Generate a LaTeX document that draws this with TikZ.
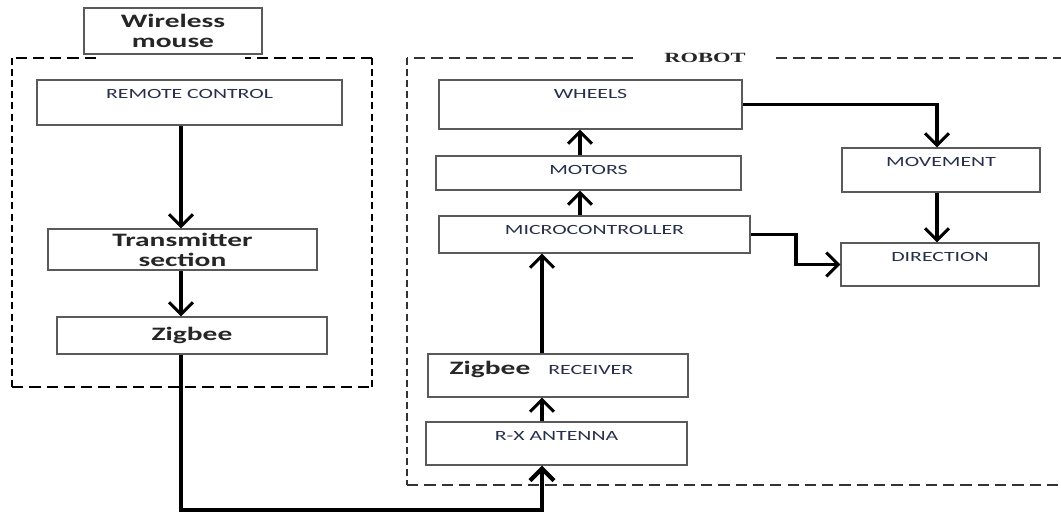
\documentclass[tikz,border=0pt]{standalone}
\usepackage{fontspec}
\setmainfont{Carlito}
\newfontfamily\blockfont[FakeStretch=1.55]{Carlito}
\newfontfamily\titlefont[FakeStretch=1.6]{Liberation Serif}
\usetikzlibrary{arrows.meta}
\definecolor{labelblue}{HTML}{26304A}
\definecolor{boxgray}{HTML}{5A5A5A}

\tikzset{
  blk/.style={draw=boxgray, line width=0.8pt, inner sep=0pt},
  captext/.style={font=\blockfont\fontsize{10}{12}\selectfont, text=labelblue},
  boldtext/.style={font=\blockfont\bfseries\fontsize{13.5}{14.2}\selectfont, text=black!85, align=center},
  toplabel/.style={label={[captext, anchor=north, yshift=-3.4pt]north:#1}},
  flow/.style={line width=2.2pt, -{Straight Barb[length=8.5pt,width=17pt]}},
  frameh/.style={line width=1.9pt, dash pattern=on 8pt off 4.3pt},
  framev/.style={line width=1.9pt, dash pattern=on 5pt off 2.9pt},
}

\begin{document}
\begin{tikzpicture}[x=0.025cm, y=-0.025cm]
    \useasboundingbox (0,0) rectangle (1061,512);

    % wireless mouse side
    \node [blk, boldtext, minimum width=4.45cm, minimum height=1.15cm] (mouse) at (173,31) {Wireless\\mouse};
    \draw [frameh] (96,58) -- (12,58) (12,387) -- (372,387) (372,58) -- (245,58);
    \draw [framev] (12,58) -- (12,387) (372,58) -- (372,387);
    \node [blk, minimum width=7.625cm, minimum height=1.125cm, toplabel=REMOTE CONTROL] (remote) at (189.5,102.5) {};
    \node [blk, boldtext, minimum width=6.725cm, minimum height=1.025cm] (trans) at (182.5,249.5) {Transmitter\\section};
    \node [blk, boldtext, minimum width=6.75cm, minimum height=0.925cm] (zbtx) at (192,335.5) {Zigbee};

    % robot side
    \draw [frameh, draw=black!80, line width=1.3pt] (633,58) -- (407,58) (776,58) -- (1061,58) (407,485) -- (1061,485);
    \draw [framev, draw=black!80, line width=1.3pt] (407,58) -- (407,485);
    \node [font=\titlefont\bfseries\fontsize{10}{12}\selectfont, text=black!85] (robot) at (705,58) {ROBOT};
    \node [blk, minimum width=7.575cm, minimum height=1.225cm, toplabel=WHEELS] (wheels) at (590.5,104.5) {};
    \node [blk, minimum width=7.625cm, minimum height=0.85cm, toplabel=MOTORS] (motors) at (588.5,173) {};
    \node [blk, minimum width=7.775cm, minimum height=0.925cm, toplabel=MICROCONTROLLER] (micro) at (594.5,234.5) {};
    \node [blk, minimum width=6.5cm, minimum height=1.075cm,
      label={[captext, anchor=north west, xshift=12.3pt, yshift=-1.7pt]north west:{\bfseries\fontsize{13.5}{14}\selectfont\color{black!85}Zigbee}\hspace{12.8pt}RECEIVER}] (recv) at (558,375.5) {};
    \node [blk, minimum width=6.525cm, minimum height=1.075cm, toplabel=R-X ANTENNA] (antenna) at (556.5,443.5) {};
    \node [blk, minimum width=4.95cm, minimum height=1.1cm, toplabel=MOVEMENT] (move) at (941,170) {};
    \node [blk, minimum width=4.95cm, minimum height=1.075cm, toplabel=DIRECTION] (dir) at (940,264.5) {};

    \coordinate (txline) at (181,0);
    \coordinate (rxline) at (542,0);
    \coordinate (wline) at (580,0);
    \coordinate (mvline) at (937,0);
    \coordinate (bend) at (796,0);
    \coordinate (bottom) at (0,510);

    % connectors
    \draw [flow] (remote.south -| txline) -- (trans.north -| txline);
    \draw [flow] (trans.south -| txline) -- (zbtx.north -| txline);
    \draw [flow, line width=3.1pt] (zbtx.south -| txline) |- (bottom -| rxline) -- (antenna.south -| rxline);
    \draw [flow] (antenna.north -| rxline) -- (recv.south -| rxline);
    \draw [flow] (recv.north -| rxline) -- (micro.south -| rxline);
    \draw [flow] (micro.north -| wline) -- (motors.south -| wline);
    \draw [flow] (motors.north -| wline) -- (wheels.south -| wline);
    \draw [flow] (wheels.east) -| (move.north -| mvline);
    \draw [flow] (move.south -| mvline) -- (dir.north -| mvline);
    \draw [flow] (micro.east) -| (bend |- dir.west) -- (dir.west);
\end{tikzpicture}
\end{document}
